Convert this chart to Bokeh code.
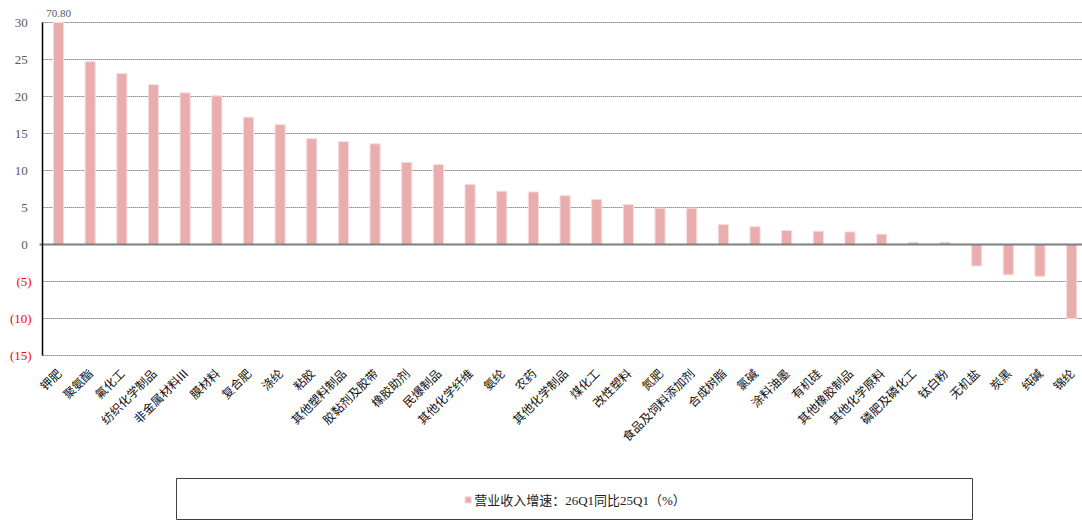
import math
from bokeh.plotting import figure
from bokeh.layouts import column
from bokeh.models import (ColumnDataSource, Range1d, FixedTicker, CustomJSTickFormatter,
                          LinearAxis, Legend, LegendItem)
from bokeh.core.properties import value
from bokeh.embed import file_html
from bokeh.resources import INLINE

categories = ["钾肥", "聚氨酯", "氟化工", "纺织化学制品", "非金属材料III", "膜材料", "复合肥", "涤纶",
              "粘胶", "其他塑料制品", "胶黏剂及胶带", "橡胶助剂", "民爆制品", "其他化学纤维", "氨纶",
              "农药", "其他化学制品", "煤化工", "改性塑料", "氮肥", "食品及饲料添加剂", "合成树脂",
              "氯碱", "涂料油墨", "有机硅", "其他橡胶制品", "其他化学原料", "磷肥及磷化工", "钛白粉",
              "无机盐", "炭黑", "纯碱", "锦纶"]
growth = [70.80, 24.7, 23.1, 21.6, 20.5, 20.1, 17.2, 16.2,
          14.3, 13.9, 13.6, 11.1, 10.8, 8.1, 7.2,
          7.1, 6.6, 6.1, 5.4, 4.9, 4.9, 2.7,
          2.4, 1.9, 1.8, 1.7, 1.4, 0.3, 0.3,
          -2.9, -4.1, -4.3, -10.0]
y_ticks = [-15, -10, -5, 0, 5, 10, 15, 20, 25, 30]
series_name = "营业收入增速：26Q1同比25Q1（%）"

Y_MIN, Y_MAX = -15, 30
SERIF = "Liberation Serif, Noto Sans CJK SC"
CJK = "Noto Sans CJK SC"
BAR = "#EAADAD"

# ---- layout constants (pixels) ----
W, H_MAIN, H_LEG = 1082, 478, 42
FRAME_L = 6                         # left border of the main figure
BAND = 31.66                        # pixel width of one category band
FIRST_C = 58                        # pixel x of first category centre
PX_PER_UNIT = 7.4
TOP_GAP = 22                        # pixels between frame top and the 30 gridline
BOTTOM_GAP = 9                      # pixels between the -15 gridline and frame bottom
FRAME_B = H_MAIN - TOP_GAP - int((Y_MAX - Y_MIN) * PX_PER_UNIT) - BOTTOM_GAP

X_START = -(FIRST_C - FRAME_L) / BAND
X_END = (W - FIRST_C) / BAND
Y_HI = Y_MAX + TOP_GAP / PX_PER_UNIT
Y_LO = Y_MIN - BOTTOM_GAP / PX_PER_UNIT
AXIS_X = -0.5                       # left edge of the first band

idx = list(range(len(categories)))
bar_top = [min(v, Y_MAX) for v in growth]     # bars are clipped at the top of the axis

p = figure(x_range=Range1d(X_START, X_END), y_range=Range1d(Y_LO, Y_HI),
           width=W, height=H_MAIN, output_backend="svg", toolbar_location=None,
           y_axis_location=None,
           min_border_left=FRAME_L, min_border_right=0, min_border_top=0,
           min_border_bottom=FRAME_B)
p.outline_line_color = None
p.xgrid.visible = False
p.ygrid.visible = False

# dotted gridlines from the axis to the right edge
grid_src = ColumnDataSource(dict(x0=[AXIS_X] * len(y_ticks), x1=[X_END] * len(y_ticks), y=y_ticks))
p.segment(x0="x0", y0="y", x1="x1", y1="y", source=grid_src,
          line_color="#555555", line_dash="1 1", line_width=1)

src = ColumnDataSource(dict(x=idx, top=bar_top, val=growth, cat=categories))
bars = p.vbar(x="x", top="top", width=0.32, source=src,
              fill_color=BAR, line_color="#F6DCDC", line_width=1)

# solid zero line
p.segment(x0=[AXIS_X - 0.1], y0=[0], x1=[X_END], y1=[0], line_color="#7F7F7F", line_width=1.8)

# y axis line (real axis at the left edge of the first band)
yax = LinearAxis(fixed_location=AXIS_X, bounds=(Y_MIN, Y_MAX),
                 ticker=FixedTicker(ticks=y_ticks),
                 formatter=CustomJSTickFormatter(code="return '';"),
                 major_tick_in=0, major_tick_out=0, minor_tick_in=0, minor_tick_out=0,
                 major_label_standoff=0, major_label_text_font_size="1px",
                 axis_line_color="black", axis_line_width=1.5)
p.add_layout(yax, "left")

# y tick labels: gray for positives, red accounting style for negatives
ylab = [f"({abs(t)})" if t < 0 else f"{t}" for t in y_ticks]
ycol = ["#FF0000" if t < 0 else "#595959" for t in y_ticks]
yoff = [-11 if t < 0 else -15 for t in y_ticks]
ylab_src = ColumnDataSource(dict(x=[AXIS_X] * len(y_ticks), y=y_ticks, t=ylab, c=ycol, o=yoff))
p.text(x="x", y="y", text="t", text_color="c", x_offset="o", source=ylab_src,
       text_align="right", text_baseline="middle",
       text_font=value(SERIF), text_font_size="13px")

# value label above bars that exceed the axis
clip_i = [i for i, v in enumerate(growth) if v > Y_MAX]
clip_src = ColumnDataSource(dict(x=clip_i, y=[Y_MAX] * len(clip_i),
                                 t=[f"{growth[i]:.2f}" for i in clip_i]))
p.text(x="x", y="y", text="t", source=clip_src, y_offset=-6,
       text_align="center", text_baseline="bottom",
       text_font=value(SERIF), text_font_size="11px", text_color="#595959")

# x axis: category names, rotated
p.xaxis.ticker = FixedTicker(ticks=idx)
p.xaxis.major_label_overrides = {i: c for i, c in zip(idx, categories)}
p.xaxis.axis_line_color = None
p.xaxis.major_tick_line_color = None
p.xaxis.minor_tick_line_color = None
p.xaxis.major_label_orientation = math.pi / 4
p.xaxis.major_label_text_font = CJK
p.xaxis.major_label_text_font_size = "12px"
p.xaxis.major_label_text_color = "#111111"
p.xaxis.major_label_standoff = 0

# ---- legend box below the chart ----
lf = figure(width=803, height=H_LEG, x_range=Range1d(-100, -99), y_range=Range1d(0, 1),
            output_backend="svg", toolbar_location=None,
            x_axis_location=None, y_axis_location=None,
            min_border_left=0, min_border_right=0, min_border_top=0, min_border_bottom=0,
            margin=(0, 0, 0, 170))
lf.grid.visible = False
lf.outline_line_color = "#404040"
key = lf.vbar(x="x", top="top", width=0.32, source=src,
              fill_color=BAR, line_color="#F6DCDC", line_width=1)
legend = Legend(items=[LegendItem(label=series_name, renderers=[key])],
                location="center", orientation="horizontal",
                glyph_width=8, glyph_height=8, label_standoff=3, padding=4, label_height=14,
                label_text_font=SERIF, label_text_font_size="13px", label_text_color="#222222",
                border_line_color=None, background_fill_alpha=0)
lf.add_layout(legend, "center")

layout = column(p, lf, spacing=0)
open("out.html", "w").write(file_html(layout, INLINE))
